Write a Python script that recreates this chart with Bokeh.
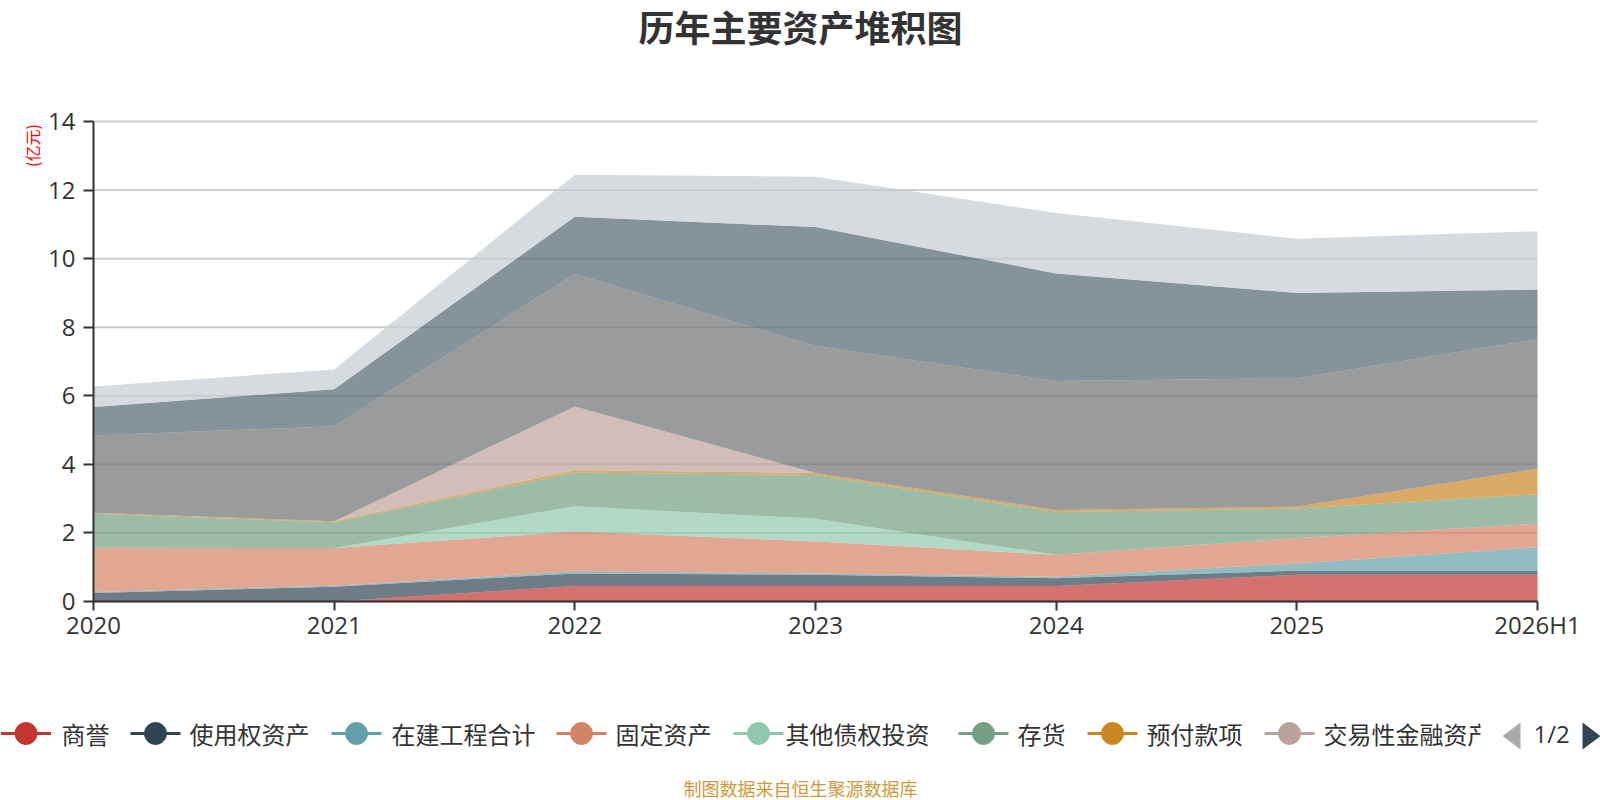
import math
from bokeh.plotting import figure
from bokeh.models import ColumnDataSource, Range1d, FixedTicker, LinearAxis
from bokeh.embed import file_html
from bokeh.resources import INLINE
from bokeh.core.properties import value

# ---------------- data ----------------
title_text = "历年主要资产堆积图"
unit_text = "(亿元)"
source_text = "制图数据来自恒生聚源数据库"
pager_text = "1/2"
periods = ["2020", "2021", "2022", "2023", "2024", "2025", "2026H1"]

legend_names = ["商誉", "使用权资产", "在建工程合计", "固定资产",
                "其他债权投资", "存货", "预付款项", "交易性金融资产"]
hidden_names = ["第2页系列一", "第2页系列二", "第2页系列三"]  # legend page 2, not shown

goodwill     = [0.00, 0.00, 0.45, 0.45, 0.45, 0.78, 0.78]
right_of_use = [0.25, 0.43, 0.37, 0.33, 0.23, 0.12, 0.12]
construction = [0.03, 0.03, 0.06, 0.04, 0.04, 0.21, 0.68]
fixed_assets = [1.29, 1.10, 1.16, 0.93, 0.64, 0.74, 0.69]
other_debt   = [0.00, 0.00, 0.74, 0.66, 0.00, 0.00, 0.00]
inventory    = [0.99, 0.75, 0.98, 1.28, 1.25, 0.86, 0.86]
prepayments  = [0.03, 0.03, 0.07, 0.06, 0.06, 0.06, 0.74]
trading_fin  = [0.00, 0.00, 1.86, 0.00, 0.00, 0.00, 0.00]
hidden_a     = [2.25, 2.77, 3.86, 3.70, 3.76, 3.74, 3.78]
hidden_b     = [0.83, 1.08, 1.67, 3.47, 3.14, 2.49, 1.45]
hidden_c     = [0.60, 0.58, 1.23, 1.47, 1.76, 1.58, 1.70]

y_ticks = [0, 2, 4, 6, 8, 10, 12, 14]

# ---------------- styles / layout ----------------
palette = ["#c23531", "#2f4554", "#61a0a8", "#d48265", "#91c7ae", "#749f83",
           "#ca8622", "#bda29a", "#6e7074", "#546570", "#c4ccd3"]
CJK = "Noto Sans CJK SC"
NUM = "Open Sans"
TXT = "#333333"

W, H = 1600, 800
PL, PR, PT, PB = 93, 1537, 121, 601      # plot-area edges in page pixels
XMAX, YMAX = len(periods) - 1, y_ticks[-1]

def dx(px):  # page pixel -> data x
    return (px - PL) / (PR - PL) * XMAX

def dy(py):  # page pixel -> data y
    return (PB - py) / (PB - PT) * YMAX

series = [goodwill, right_of_use, construction, fixed_assets, other_debt,
          inventory, prepayments, trading_fin, hidden_a, hidden_b, hidden_c]
keys = [f"s{i}" for i in range(len(series))]
data = {"x": list(range(len(periods)))}
for k, s in zip(keys, series):
    data[k] = s
src = ColumnDataSource(data)

# the frame covers the whole page; axes are pinned at x=0 / y=0
p = figure(width=W, height=H, x_range=Range1d(dx(0), dx(W)), y_range=Range1d(dy(H), dy(0)),
           output_backend="svg", toolbar_location=None,
           x_axis_location=None, y_axis_location=None,
           min_border=0, min_border_left=0, min_border_right=0,
           min_border_top=0, min_border_bottom=0)
p.outline_line_color = None
p.background_fill_color = "white"
p.border_fill_color = "white"
p.title.text = ""
p.grid.visible = False

# grid lines
p.segment(x0=[0] * len(y_ticks), x1=[XMAX] * len(y_ticks), y0=y_ticks, y1=y_ticks,
          line_color="#cccccc", line_width=2, level="underlay")

p.varea_stack(stackers=keys, x="x", fill_color=palette, fill_alpha=0.7, source=src)

# axes
xaxis = LinearAxis(fixed_location=0, bounds=(0, XMAX),
                   ticker=FixedTicker(ticks=data["x"]),
                   major_label_overrides={i: s for i, s in enumerate(periods)})
yaxis = LinearAxis(fixed_location=0, bounds=(0, YMAX), ticker=FixedTicker(ticks=y_ticks))
for ax in (xaxis, yaxis):
    ax.axis_line_color = TXT
    ax.axis_line_width = 2
    ax.major_tick_line_color = TXT
    ax.major_tick_line_width = 2
    ax.major_tick_in = 0
    ax.minor_tick_line_color = None
    ax.major_label_text_font = NUM
    ax.major_label_text_font_size = "24px"
    ax.major_label_text_color = TXT
xaxis.major_tick_out = 9
xaxis.major_label_standoff = -3
yaxis.major_tick_out = 10
yaxis.major_label_standoff = 8
p.add_layout(xaxis, "below")
p.add_layout(yaxis, "left")

# ---------------- texts ----------------
def txt(px, py, text, size, color, font=CJK, align="center", style="normal", angle=0.0):
    p.text(x=[dx(px)], y=[dy(py)], text=[text], text_font=value(font),
           text_font_size=size, text_color=color, text_align=align,
           text_baseline="middle", text_font_style=style, angle=angle)

txt(800, 25, title_text, "36px", TXT, style="bold")
txt(31, 145, unit_text, "16px", "#ff0000", angle=math.pi / 2)
txt(800, 787, source_text, "18px", "#cc9a3a")

# ---------------- legend (page 1 of a scrolling legend) ----------------
LY = 733
icon_x = [25.5, 155, 356, 581, 758, 983, 1112, 1289]
text_x = [61, 189, 391, 615, 785, 1017, 1146, 1323]
lsrc = ColumnDataSource(dict(
    name=legend_names, color=palette[:len(legend_names)],
    ix=[dx(v) for v in icon_x], tx=[dx(v) for v in text_x],
    x0=[dx(v - 25) for v in icon_x], x1=[dx(v + 25) for v in icon_x],
    y=[dy(LY)] * len(legend_names)))
p.segment(x0="x0", y0="y", x1="x1", y1="y", line_color="color", line_width=3, source=lsrc)
p.scatter(x="ix", y="y", size=22, fill_color="color", line_color="color", source=lsrc)
p.text(x="tx", y="y", text="name", text_font=value(CJK), text_font_size="24px",
       text_color=TXT, text_baseline="middle", text_align="left", source=lsrc)
# scroll-area clipping of the last item
p.quad(left=dx(1480), right=dx(1501), top=dy(712), bottom=dy(756),
       fill_color="white", line_color=None)
# pager
p.patch(x=[dx(1502), dx(1520), dx(1520)], y=[dy(735.5), dy(722), dy(749)],
        fill_color="#aaaaaa", line_color=None)
p.patch(x=[dx(1582), dx(1600), dx(1582)], y=[dy(722), dy(735.5), dy(749)],
        fill_color="#2f4554", line_color=None)
txt(1533, LY, pager_text, "24px", TXT, font=NUM, align="left")

open("out.html", "w").write(file_html(p, INLINE))
